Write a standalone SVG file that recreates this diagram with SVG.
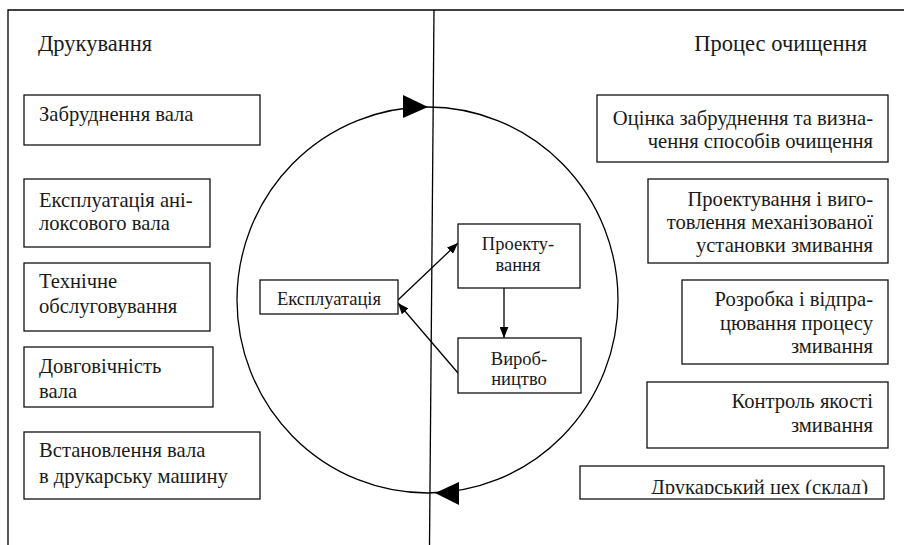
<svg xmlns="http://www.w3.org/2000/svg" width="904" height="545" viewBox="0 0 904 545">
<style>
.box{fill:#fff;stroke:#111;stroke-width:1.3}
.t{font-family:"Liberation Serif","DejaVu Serif",serif;font-size:20.6px;fill:#1a1a1a}
.h{font-size:22.5px}
.s{font-size:18.5px}
.r{text-anchor:end}
.c{text-anchor:middle}
.ln{fill:none;stroke:#000;stroke-width:1.3}
.ah{fill:#000}
</style>
<defs>
<marker id="ah" viewBox="0 0 10 8" refX="10" refY="4" markerWidth="11" markerHeight="9" markerUnits="userSpaceOnUse" orient="auto"><path d="M0,0 L10,4 L0,8 z" fill="#000"/></marker>
<clipPath id="clip5"><rect x="580" y="466" width="304" height="28"/></clipPath>
</defs>
<rect x="0" y="0" width="904" height="545" fill="#fff"/>
<g id="frame">
<path class="ln" d="M8,545 V10 H904"/>
<line class="ln" x1="434" y1="10" x2="429.5" y2="545"/>
</g>
<text class="t h" x="38" y="51">Друкування</text>
<text class="t h r" x="867" y="51">Процес очищення</text>
<g id="connectors">
<ellipse class="ln" cx="427.5" cy="300" rx="190.5" ry="193"/>
<polygon class="ah" points="428,107 403,95 403,118"/>
<polygon class="ah" points="435,493 459,482 459,505"/>
<line class="ln" x1="398" y1="300" x2="458" y2="243" marker-end="url(#ah)"/>
<line class="ln" x1="504" y1="288" x2="504" y2="338" marker-end="url(#ah)"/>
<line class="ln" x1="458" y1="373" x2="398" y2="303" marker-end="url(#ah)"/>
</g>
<g id="l1"><rect class="box" x="24" y="95" width="236" height="50"/><text class="t" x="39" y="121">Забруднення вала</text></g>
<g id="l2"><rect class="box" x="24" y="179" width="186" height="68"/><text class="t" x="39" y="207">Експлуатація ані-</text><text class="t" x="39" y="230">локсового вала</text></g>
<g id="l3"><rect class="box" x="24" y="263" width="186" height="68"/><text class="t" x="39" y="288">Технічне</text><text class="t" x="39" y="313">обслуговування</text></g>
<g id="l4"><rect class="box" x="24" y="347" width="189" height="60"/><text class="t" x="39" y="373">Довговічність</text><text class="t" x="39" y="398">вала</text></g>
<g id="l5"><rect class="box" x="24" y="432" width="236" height="67"/><text class="t" x="39" y="457">Встановлення вала</text><text class="t" x="39" y="483">в друкарську машину</text></g>
<g id="exp"><rect class="box" x="260" y="280" width="138" height="34"/><text class="t s c" x="329" y="305">Експлуатація</text></g>
<g id="proj"><rect class="box" x="458" y="224" width="122" height="64"/><text class="t s c" x="518" y="250">Проекту-</text><text class="t s c" x="518" y="271">вання</text></g>
<g id="vyr"><rect class="box" x="458" y="338" width="123" height="55"/><text class="t s c" x="519" y="365">Вироб-</text><text class="t s c" x="519" y="385">ництво</text></g>
<g id="r1"><rect class="box" x="597" y="95" width="291" height="67"/><text class="t r" x="873" y="125">Оцінка забруднення та визна-</text><text class="t r" x="873" y="148">чення способів очищення</text></g>
<g id="r2"><rect class="box" x="648" y="179" width="240" height="84"/><text class="t r" x="873" y="206">Проектування і виго-</text><text class="t r" x="873" y="229">товлення механізованої</text><text class="t r" x="873" y="252">установки змивання</text></g>
<g id="r3"><rect class="box" x="682" y="280" width="206" height="84"/><text class="t r" x="873" y="306">Розробка і відпра-</text><text class="t r" x="873" y="330">цювання процесу</text><text class="t r" x="873" y="353">змивання</text></g>
<g id="r4"><rect class="box" x="647" y="382" width="241" height="66"/><text class="t r" x="873" y="408">Контроль якості</text><text class="t r" x="873" y="432">змивання</text></g>
<g id="r5"><rect class="box" x="580" y="466" width="304" height="33"/><text class="t r" x="868" y="494" clip-path="url(#clip5)">Друкарський цех (склад)</text></g>
</svg>
